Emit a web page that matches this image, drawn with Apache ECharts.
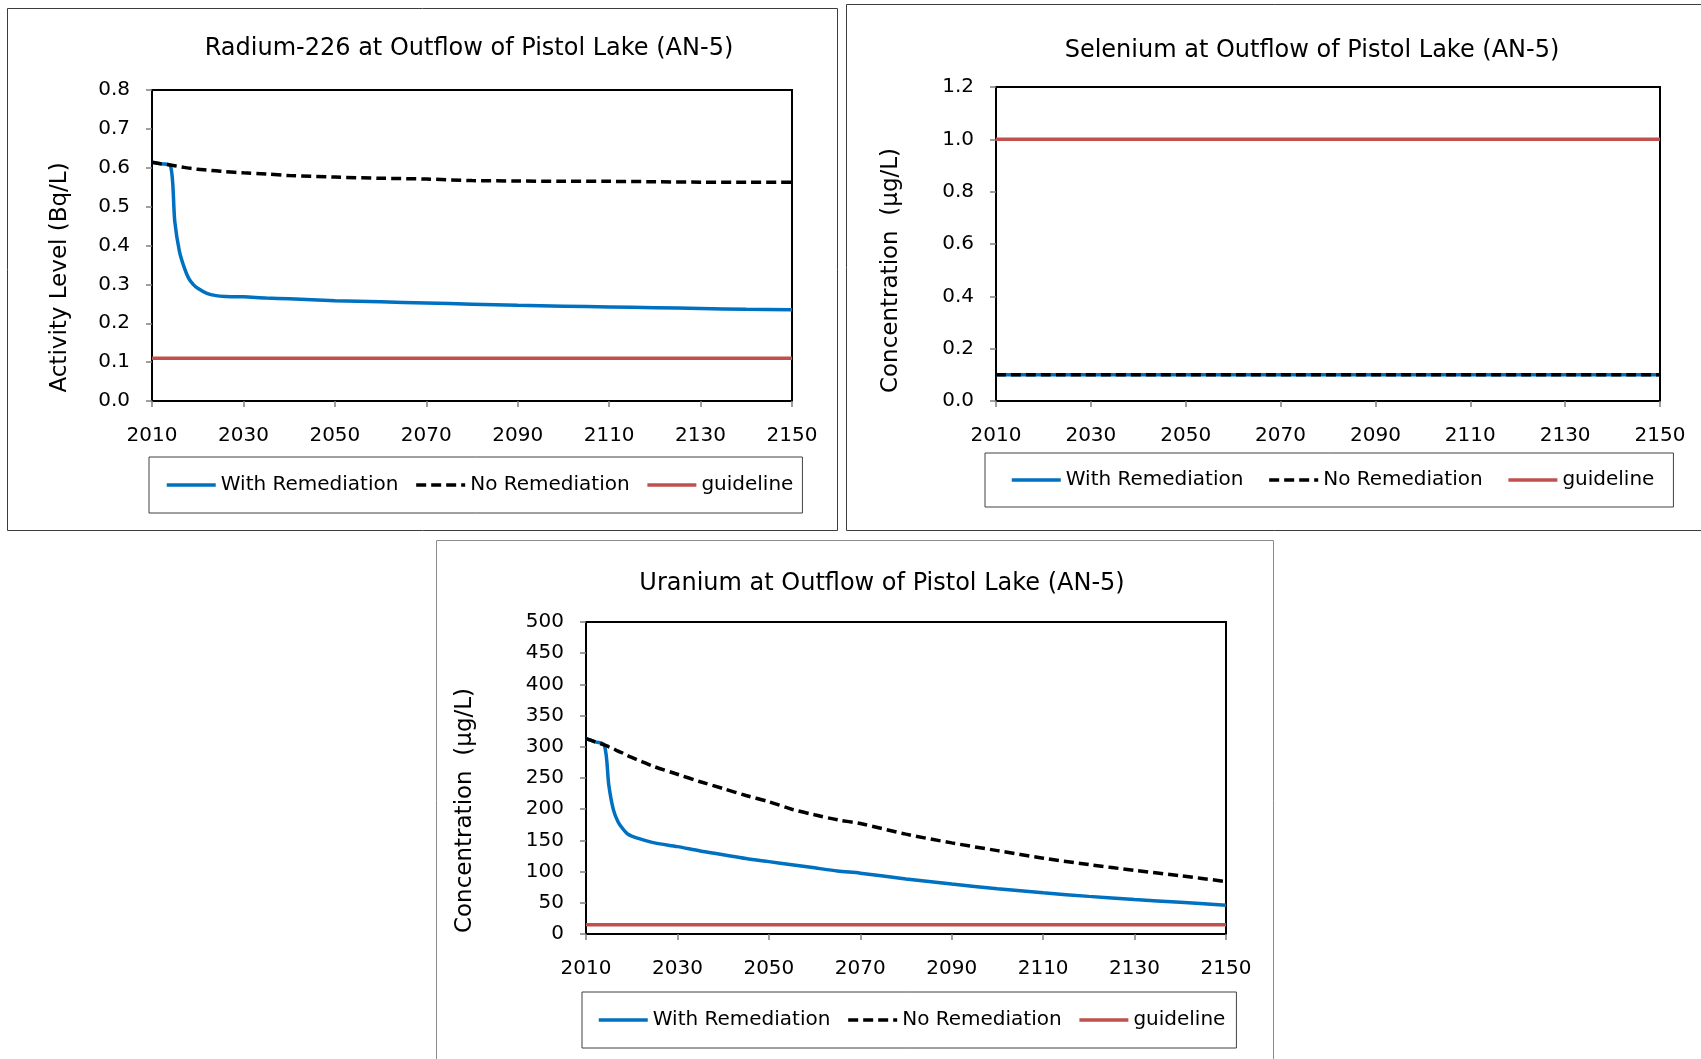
<!DOCTYPE html>
<html>
<head>
<meta charset="utf-8">
<title>Outflow of Pistol Lake (AN-5)</title>
<script src="https://cdn.jsdelivr.net/npm/echarts@6/dist/echarts.min.js"></script>
<style>
	html, body { margin: 0; padding: 0; background: #fff; }
	#chart { width: 1701px; height: 1059px; }
</style>
</head>
<body>
<div id="chart"></div>
<script>
//Tick labels on the year axis (same for all three panels)
let yearTicks = [2010, 2030, 2050, 2070, 2090, 2110, 2130, 2150];
let seriesNames = ['With Remediation', 'No Remediation', 'guideline'];

//Radium-226 (Bq/L)
let raYears = [2010, 2012, 2014, 2015, 2016, 2017, 2018, 2019, 2020, 2022, 2024, 2026, 2030, 2035, 2040, 2050, 2060, 2070, 2080, 2090, 2100, 2110, 2120, 2130, 2140, 2150];
let raWith  = [0.614, 0.610, 0.606, 0.460, 0.385, 0.345, 0.316, 0.300, 0.290, 0.277, 0.271, 0.269, 0.268, 0.265, 0.263, 0.258, 0.255, 0.252, 0.249, 0.246, 0.244, 0.242, 0.240, 0.238, 0.236, 0.235];
let raNo    = [0.614, 0.610, 0.607, 0.605, 0.603, 0.601, 0.599, 0.598, 0.596, 0.594, 0.592, 0.590, 0.587, 0.584, 0.580, 0.576, 0.573, 0.571, 0.567, 0.566, 0.565, 0.565, 0.564, 0.563, 0.563, 0.563];
let raGuideline = 0.11;

//Selenium (ug/L)
let seYears = [2010, 2150];
let seWith  = [0.1, 0.1];
let seNo    = [0.1, 0.1];
let seGuideline = 1.0;

//Uranium (ug/L)
let urYears = [2010, 2012, 2014, 2015, 2016, 2017, 2018, 2019, 2020, 2022, 2025, 2030, 2035, 2040, 2045, 2050, 2055, 2060, 2065, 2070, 2080, 2090, 2100, 2110, 2120, 2130, 2140, 2150];
let urWith  = [313, 308, 303, 238, 199, 180, 169, 161, 157, 152, 146, 140, 133, 127, 121, 116, 111, 106, 101, 97.5, 88.3, 80.0, 72.5, 66.0, 60.3, 55.3, 50.8, 46.1];
let urNo    = [313, 308, 303, 300, 297, 293, 290, 286, 283, 277, 268, 256, 244, 233, 222, 212, 200, 191, 183, 177, 160, 146, 133.6, 121.5, 111.2, 102, 93.5, 84];
let urGuideline = 15;

let colors = ['#0070C0', '#000000', '#C0504D'];
let font = 'DejaVu Sans';

//Layout of each panel on the page
let panels = [
	{
		title: 'Radium-226 at Outflow of Pistol Lake (AN-5)',
		yName: 'Activity Level (Bq/L)',
		years: raYears, withRem: raWith, noRem: raNo, guide: raGuideline,
		yMax: 0.8, yStep: 0.1, decimals: 1,
		grid: {left: 152, top: 90, width: 640, height: 311},
		titleX: 469, titleY: 37, nameGap: 80, nameShift: 64,
		legend: {left: 149, top: 457, gap: 16, pad: [18, 9, 18, 16]}
	},
	{
		title: 'Selenium at Outflow of Pistol Lake (AN-5)',
		yName: 'Concentration  (\u00b5g/L)',
		years: seYears, withRem: seWith, noRem: seNo, guide: seGuideline,
		yMax: 1.2, yStep: 0.2, decimals: 1,
		grid: {left: 996, top: 87, width: 664, height: 314},
		titleX: 1312, titleY: 39, nameGap: 93, nameShift: 53,
		legend: {left: 985, top: 453, gap: 24, pad: [17, 19, 17, 25]}
	},
	{
		title: 'Uranium at Outflow of Pistol Lake (AN-5)',
		yName: 'Concentration  (\u00b5g/L)',
		years: urYears, withRem: urWith, noRem: urNo, guide: urGuideline,
		yMax: 500, yStep: 50, decimals: 0,
		grid: {left: 586, top: 622, width: 640, height: 312},
		titleX: 882, titleY: 572, nameGap: 109, nameShift: 65,
		legend: {left: 582, top: 992, gap: 16, pad: [18, 11, 18, 15]}
	}
];

function pairs(xs, ys) {
	let out = [];
	for (let i = 0; i < xs.length; i++) {
		out.push([xs[i], ys[i]]);
	}
	return out;
}

let option = {
	backgroundColor: '#ffffff',
	animation: false,
	title: [],
	legend: [],
	grid: [],
	xAxis: [],
	yAxis: [],
	series: [],
	graphic: [
		//panel frames
		{type: 'rect', shape: {x: 7.5, y: 8.5, width: 830, height: 522}, style: {fill: 'none', stroke: '#3c3c3c', lineWidth: 1}},
		{type: 'rect', shape: {x: 846.5, y: 4.5, width: 900, height: 526}, style: {fill: 'none', stroke: '#3c3c3c', lineWidth: 1}},
		{type: 'rect', shape: {x: 436.5, y: 540.5, width: 837, height: 600}, style: {fill: 'none', stroke: '#8c8c8c', lineWidth: 1}}
	]
};

for (let i = 0; i < panels.length; i++) {
	let p = panels[i];
	option.title.push({
		text: p.title,
		left: p.titleX,
		top: p.titleY,
		textAlign: 'center',
		padding: 0,
		textStyle: {fontFamily: font, fontSize: 24, fontWeight: 'normal', color: '#000'}
	});
	option.grid.push({
		left: p.grid.left, top: p.grid.top, width: p.grid.width, height: p.grid.height,
		show: true, borderColor: '#000', borderWidth: 2
	});
	option.xAxis.push({
		type: 'value',
		gridIndex: i,
		min: yearTicks[0],
		max: yearTicks[yearTicks.length - 1],
		axisLine: {show: true, lineStyle: {color: '#000', width: 2}},
		axisTick: {show: true, customValues: yearTicks, length: 6, lineStyle: {color: '#808080', width: 1.5}},
		axisLabel: {
			customValues: yearTicks, margin: 25, fontFamily: font, fontSize: 20, color: '#000',
			formatter: function (v) { return String(v); }
		},
		splitLine: {show: false}
	});
	option.yAxis.push({
		type: 'value',
		gridIndex: i,
		min: 0,
		max: p.yMax,
		interval: p.yStep,
		name: p.yName,
		nameLocation: 'middle',
		nameGap: p.nameGap,
		//the axis titles sit a bit below the middle of the axis
		nameTextStyle: {fontFamily: font, fontSize: 23, color: '#000', padding: [0, p.nameShift, 0, 0]},
		axisLine: {show: true, lineStyle: {color: '#000', width: 2}},
		axisTick: {show: true, length: 6, lineStyle: {color: '#808080', width: 1.5}},
		axisLabel: {
			margin: 22, fontFamily: font, fontSize: 20, color: '#000',
			formatter: function (v) { return v.toFixed(p.decimals); }
		},
		splitLine: {show: false}
	});
	option.legend.push({
		data: seriesNames,
		left: p.legend.left,
		top: p.legend.top,
		orient: 'horizontal',
		padding: p.legend.pad,
		itemGap: p.legend.gap,
		itemWidth: 49,
		itemHeight: 14,
		itemStyle: {opacity: 0},
		lineStyle: {width: 3.5},
		borderColor: '#404040',
		borderWidth: 1,
		selectedMode: false,
		textStyle: {fontFamily: font, fontSize: 20, color: '#000'}
	});

	let first = yearTicks[0];
	let last = yearTicks[yearTicks.length - 1];
	option.series.push(
		{
			name: seriesNames[0], type: 'line', xAxisIndex: i, yAxisIndex: i,
			data: pairs(p.years, p.withRem), symbol: 'none', smooth: 0.3,
			lineStyle: {color: colors[0], width: 3.5}, itemStyle: {color: colors[0]}
		},
		{
			name: seriesNames[1], type: 'line', xAxisIndex: i, yAxisIndex: i,
			data: pairs(p.years, p.noRem), symbol: 'none', smooth: 0.3,
			lineStyle: {color: colors[1], width: 3.5, type: [10, 5]}, itemStyle: {color: colors[1]}
		},
		{
			name: seriesNames[2], type: 'line', xAxisIndex: i, yAxisIndex: i,
			data: [[first, p.guide], [last, p.guide]], symbol: 'none',
			lineStyle: {color: colors[2], width: 3.5}, itemStyle: {color: colors[2]}
		}
	);
}

window.onload = function () {
	let chart = echarts.init(document.getElementById('chart'));
	chart.setOption(option);
};
</script>
</body>
</html>
